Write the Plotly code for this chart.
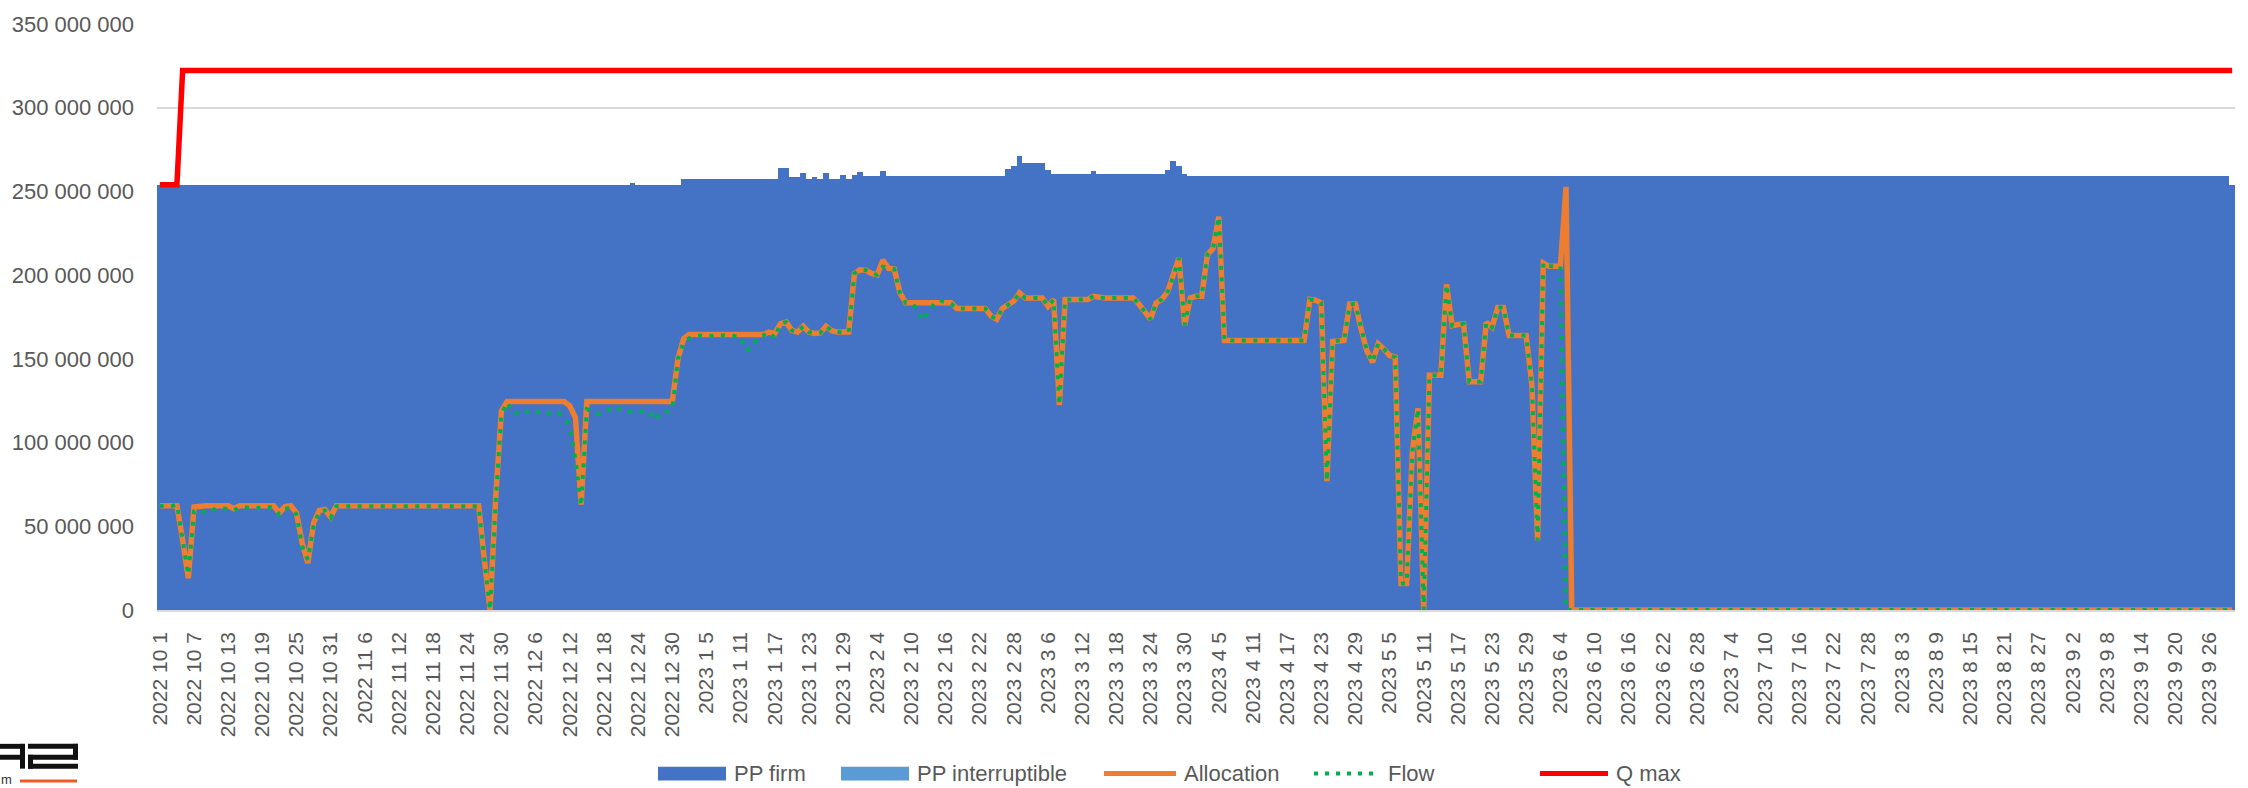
import pandas as pd
import plotly.graph_objects as go

# Gas day categories, 1 Oct 2022 - 30 Sep 2023
dates = pd.date_range("2022-10-01", "2023-09-30", freq="D")
days = [f"{d.year} {d.month} {d.day}" for d in dates]
tick_days = days[::6]

# Daily values in millions (kWh/d), one row = 10 gas days
pp_firm = [
    254.0, 254.0, 254.0, 254.0, 254.0, 254.0, 254.0, 254.0, 254.0, 254.0,
    254.0, 254.0, 254.0, 254.0, 254.0, 254.0, 254.0, 254.0, 254.0, 254.0,
    254.0, 254.0, 254.0, 254.0, 254.0, 254.0, 254.0, 254.0, 254.0, 254.0,
    254.0, 254.0, 254.0, 254.0, 254.0, 254.0, 254.0, 254.0, 254.0, 254.0,
    254.0, 254.0, 254.0, 254.0, 254.0, 254.0, 254.0, 254.0, 254.0, 254.0,
    254.0, 254.0, 254.0, 254.0, 254.0, 254.0, 254.0, 254.0, 254.0, 254.0,
    254.0, 254.0, 254.0, 254.0, 254.0, 254.0, 254.0, 254.0, 254.0, 254.0,
    254.0, 254.0, 254.0, 254.0, 254.0, 254.0, 254.0, 254.0, 254.0, 254.0,
    254.0, 254.0, 254.0, 254.8, 254.0, 254.0, 254.0, 254.0, 254.0, 254.0,
    254.0, 254.0, 257.2, 257.2, 257.2, 257.2, 257.2, 257.2, 257.2, 257.2,
    257.2, 257.2, 257.2, 257.2, 257.2, 257.2, 257.2, 257.2, 257.2, 264.0,
    264.0, 258.6, 258.6, 261.2, 257.2, 258.6, 257.2, 261.2, 257.2, 257.2,
    259.6, 257.2, 259.6, 261.6, 259.2, 259.2, 259.2, 262.4, 259.2, 259.2,
    259.2, 259.2, 259.2, 259.2, 259.2, 259.2, 259.2, 259.2, 259.2, 259.2,
    259.2, 259.2, 259.2, 259.2, 259.2, 259.2, 259.2, 259.2, 259.2, 263.5,
    264.9, 271.0, 267.1, 267.1, 267.1, 267.1, 262.6, 260.2, 260.2, 260.2,
    260.2, 260.2, 260.2, 260.2, 262.4, 260.2, 260.2, 260.2, 260.2, 260.2,
    260.2, 260.2, 260.2, 260.2, 260.2, 260.2, 260.2, 263.1, 268.3, 265.3,
    260.2, 259.2, 259.2, 259.2, 259.2, 259.2, 259.2, 259.2, 259.2, 259.2,
    259.2, 259.2, 259.2, 259.2, 259.2, 259.2, 259.2, 259.2, 259.2, 259.2,
    259.2, 259.2, 259.2, 259.2, 259.2, 259.2, 259.2, 259.2, 259.2, 259.2,
    259.2, 259.2, 259.2, 259.2, 259.2, 259.2, 259.2, 259.2, 259.2, 259.2,
    259.2, 259.2, 259.2, 259.2, 259.2, 259.2, 259.2, 259.2, 259.2, 259.2,
    259.2, 259.2, 259.2, 259.2, 259.2, 259.2, 259.2, 259.2, 259.2, 259.2,
    259.2, 259.2, 259.2, 259.2, 259.2, 259.2, 259.2, 259.2, 259.2, 259.2,
    259.2, 259.2, 259.2, 259.2, 259.2, 259.2, 259.2, 259.2, 259.2, 259.2,
    259.2, 259.2, 259.2, 259.2, 259.2, 259.2, 259.2, 259.2, 259.2, 259.2,
    259.2, 259.2, 259.2, 259.2, 259.2, 259.2, 259.2, 259.2, 259.2, 259.2,
    259.2, 259.2, 259.2, 259.2, 259.2, 259.2, 259.2, 259.2, 259.2, 259.2,
    259.2, 259.2, 259.2, 259.2, 259.2, 259.2, 259.2, 259.2, 259.2, 259.2,
    259.2, 259.2, 259.2, 259.2, 259.2, 259.2, 259.2, 259.2, 259.2, 259.2,
    259.2, 259.2, 259.2, 259.2, 259.2, 259.2, 259.2, 259.2, 259.2, 259.2,
    259.2, 259.2, 259.2, 259.2, 259.2, 259.2, 259.2, 259.2, 259.2, 259.2,
    259.2, 259.2, 259.2, 259.2, 259.2, 259.2, 259.2, 259.2, 259.2, 259.2,
    259.2, 259.2, 259.2, 259.2, 259.2, 259.2, 259.2, 259.2, 259.2, 259.2,
    259.2, 259.2, 259.2, 259.2, 259.2, 259.2, 259.2, 259.2, 259.2, 259.2,
    259.2, 259.2, 259.2, 259.2, 254.0,
]

pp_interruptible = [0.0] * len(days)

allocation = [
    62.3, 62.3, 62.3, 62.3, 42.0, 19.0, 61.5, 62.3, 62.3, 62.3,
    62.3, 62.3, 62.3, 60.5, 62.3, 62.3, 62.3, 62.3, 62.3, 62.3,
    62.3, 58.0, 61.8, 62.3, 58.0, 40.0, 28.0, 52.0, 59.5, 60.0,
    55.5, 62.3, 62.3, 62.3, 62.3, 62.3, 62.3, 62.3, 62.3, 62.3,
    62.3, 62.3, 62.3, 62.3, 62.3, 62.3, 62.3, 62.3, 62.3, 62.3,
    62.3, 62.3, 62.3, 62.3, 62.3, 62.3, 62.3, 30.0, 0.0, 68.0,
    119.0, 124.5, 124.5, 124.5, 124.5, 124.5, 124.5, 124.5, 124.5, 124.5,
    124.5, 124.5, 122.0, 115.0, 63.0, 124.5, 124.5, 124.5, 124.5, 124.5,
    124.5, 124.5, 124.5, 124.5, 124.5, 124.5, 124.5, 124.5, 124.5, 124.5,
    124.5, 150.0, 162.0, 164.5, 164.5, 164.5, 164.5, 164.5, 164.5, 164.5,
    164.5, 164.5, 164.5, 164.5, 164.5, 164.5, 164.5, 166.0, 165.0, 171.0,
    172.0, 167.0, 166.0, 169.5, 166.0, 165.2, 165.5, 169.5, 166.8, 166.0,
    165.6, 166.0, 201.0, 203.2, 203.0, 201.0, 200.2, 209.0, 204.0, 203.6,
    189.4, 183.5, 183.5, 183.5, 183.5, 183.5, 183.5, 183.5, 183.5, 183.5,
    180.1, 180.1, 180.1, 180.1, 180.1, 180.1, 175.5, 173.7, 180.1, 182.5,
    184.5, 189.4, 186.4, 186.4, 186.4, 186.4, 181.5, 185.5, 122.4, 185.5,
    185.5, 185.5, 185.5, 185.5, 187.4, 186.5, 186.4, 186.4, 186.4, 186.4,
    186.4, 186.4, 182.6, 178.0, 173.7, 183.5, 185.5, 190.0, 199.0, 210.2,
    170.0, 186.4, 187.4, 187.4, 212.2, 216.1, 234.9, 161.0, 161.0, 161.0,
    161.0, 161.0, 161.0, 161.0, 161.0, 161.0, 161.0, 161.0, 161.0, 161.0,
    161.0, 161.0, 185.5, 185.0, 183.5, 77.0, 160.3, 161.0, 161.0, 182.7,
    182.7, 168.0, 155.0, 148.0, 159.0, 156.0, 152.0, 151.0, 15.8, 15.8,
    94.8, 120.4, 0.0, 140.2, 140.2, 140.2, 194.5, 169.8, 170.5, 170.8,
    136.3, 136.3, 136.3, 171.8, 168.9, 180.7, 180.7, 163.9, 163.9, 163.9,
    163.9, 134.3, 41.5, 207.3, 205.3, 205.3, 205.3, 252.7, 0.0, 0.0,
    0.0, 0.0, 0.0, 0.0, 0.0, 0.0, 0.0, 0.0, 0.0, 0.0,
    0.0, 0.0, 0.0, 0.0, 0.0, 0.0, 0.0, 0.0, 0.0, 0.0,
    0.0, 0.0, 0.0, 0.0, 0.0, 0.0, 0.0, 0.0, 0.0, 0.0,
    0.0, 0.0, 0.0, 0.0, 0.0, 0.0, 0.0, 0.0, 0.0, 0.0,
    0.0, 0.0, 0.0, 0.0, 0.0, 0.0, 0.0, 0.0, 0.0, 0.0,
    0.0, 0.0, 0.0, 0.0, 0.0, 0.0, 0.0, 0.0, 0.0, 0.0,
    0.0, 0.0, 0.0, 0.0, 0.0, 0.0, 0.0, 0.0, 0.0, 0.0,
    0.0, 0.0, 0.0, 0.0, 0.0, 0.0, 0.0, 0.0, 0.0, 0.0,
    0.0, 0.0, 0.0, 0.0, 0.0, 0.0, 0.0, 0.0, 0.0, 0.0,
    0.0, 0.0, 0.0, 0.0, 0.0, 0.0, 0.0, 0.0, 0.0, 0.0,
    0.0, 0.0, 0.0, 0.0, 0.0, 0.0, 0.0, 0.0, 0.0, 0.0,
    0.0, 0.0, 0.0, 0.0, 0.0,
]

flow = [
    62.0, 62.5, 62.0, 63.0, 42.0, 21.0, 59.0, 60.0, 58.0, 59.0,
    61.0, 61.0, 60.0, 59.5, 61.5, 61.0, 61.0, 61.0, 61.5, 61.5,
    61.0, 57.0, 60.5, 61.0, 57.0, 38.0, 30.0, 50.0, 59.0, 59.5,
    55.0, 62.0, 62.0, 62.0, 62.0, 62.0, 62.0, 62.0, 62.0, 62.0,
    62.0, 62.0, 62.0, 62.0, 62.0, 62.0, 62.0, 62.0, 62.0, 62.0,
    62.0, 62.0, 62.0, 62.0, 62.0, 62.0, 62.0, 30.0, 0.0, 65.0,
    117.0, 124.0, 117.5, 118.0, 117.4, 119.7, 118.5, 117.4, 118.0, 117.4,
    118.0, 115.0, 110.0, 90.0, 62.0, 120.0, 118.6, 117.0, 118.0, 119.5,
    121.6, 119.5, 118.6, 118.6, 118.3, 118.3, 118.3, 113.3, 118.3, 118.3,
    120.0, 150.0, 160.0, 162.4, 163.0, 164.0, 163.5, 164.0, 164.0, 164.0,
    164.0, 163.5, 163.0, 155.0, 156.5, 163.0, 164.0, 166.0, 162.4, 171.0,
    172.0, 167.0, 166.0, 169.5, 166.0, 165.2, 165.5, 169.5, 166.8, 166.0,
    165.6, 166.0, 201.0, 203.2, 203.0, 201.0, 200.2, 205.0, 204.0, 203.6,
    189.4, 183.5, 183.5, 179.7, 172.8, 177.7, 183.0, 185.0, 184.0, 183.0,
    180.1, 180.1, 180.1, 180.1, 180.1, 180.1, 175.5, 173.7, 180.1, 182.5,
    184.5, 189.4, 186.4, 186.4, 186.4, 186.4, 181.5, 185.5, 122.4, 185.5,
    185.5, 185.5, 185.5, 185.5, 187.4, 186.5, 186.4, 186.4, 186.4, 186.4,
    186.4, 186.4, 182.6, 178.0, 173.7, 183.5, 185.5, 190.0, 199.0, 210.2,
    170.0, 186.4, 187.4, 187.4, 212.2, 216.1, 234.9, 161.0, 161.0, 161.0,
    161.0, 161.0, 161.0, 161.0, 161.0, 161.0, 161.0, 161.0, 161.0, 161.0,
    161.0, 161.0, 185.5, 185.0, 183.5, 77.0, 160.3, 161.0, 161.0, 182.7,
    182.7, 168.0, 155.0, 148.0, 159.0, 156.0, 152.0, 151.0, 15.8, 15.8,
    94.8, 120.4, 0.0, 140.2, 140.2, 140.2, 194.5, 169.8, 170.5, 170.8,
    136.3, 136.3, 136.3, 171.8, 168.9, 180.7, 180.7, 163.9, 163.9, 163.9,
    163.9, 134.3, 41.5, 207.3, 205.3, 205.3, 205.3, 0.0, 0.0, 0.0,
    0.0, 0.0, 0.0, 0.0, 0.0, 0.0, 0.0, 0.0, 0.0, 0.0,
    0.0, 0.0, 0.0, 0.0, 0.0, 0.0, 0.0, 0.0, 0.0, 0.0,
    0.0, 0.0, 0.0, 0.0, 0.0, 0.0, 0.0, 0.0, 0.0, 0.0,
    0.0, 0.0, 0.0, 0.0, 0.0, 0.0, 0.0, 0.0, 0.0, 0.0,
    0.0, 0.0, 0.0, 0.0, 0.0, 0.0, 0.0, 0.0, 0.0, 0.0,
    0.0, 0.0, 0.0, 0.0, 0.0, 0.0, 0.0, 0.0, 0.0, 0.0,
    0.0, 0.0, 0.0, 0.0, 0.0, 0.0, 0.0, 0.0, 0.0, 0.0,
    0.0, 0.0, 0.0, 0.0, 0.0, 0.0, 0.0, 0.0, 0.0, 0.0,
    0.0, 0.0, 0.0, 0.0, 0.0, 0.0, 0.0, 0.0, 0.0, 0.0,
    0.0, 0.0, 0.0, 0.0, 0.0, 0.0, 0.0, 0.0, 0.0, 0.0,
    0.0, 0.0, 0.0, 0.0, 0.0, 0.0, 0.0, 0.0, 0.0, 0.0,
    0.0, 0.0, 0.0, 0.0, 0.0,
]

q_max = [254.0, 254.0, 254.0, 254.0] + [322.2] * 361

for series in (pp_firm, allocation, flow, q_max):
    assert len(series) == len(days), len(series)

M = 1e6
C_FIRM = "#4472C4"
C_INTR = "#5B9BD5"
C_ALLOC = "#ED7D31"
C_FLOW = "#00B050"
C_QMAX = "#FF0000"
TXT = "#595959"
FONT = "Liberation Sans, Arial, sans-serif"

fig = go.Figure()
fig.add_trace(go.Bar(x=days, y=[v * M for v in pp_firm], name="PP firm",
                     marker=dict(color=C_FIRM, line=dict(width=0))))
fig.add_trace(go.Bar(x=days, y=[v * M for v in pp_interruptible], name="PP interruptible",
                     marker=dict(color=C_INTR, line=dict(width=0))))
fig.add_trace(go.Scatter(x=days, y=[v * M for v in allocation], name="Allocation", mode="lines",
                         line=dict(color=C_ALLOC, width=5.5), cliponaxis=False))
fig.add_trace(go.Scatter(x=days, y=[v * M for v in flow], name="Flow", mode="lines",
                         line=dict(color=C_FLOW, width=4, dash="4px,7.5px"), cliponaxis=False))
fig.add_trace(go.Scatter(x=days, y=[v * M for v in q_max], name="Q max", mode="lines",
                         line=dict(color=C_QMAX, width=5.5), cliponaxis=False))

# plot area in page pixels
L, R, T, B = 157, 2235, 19, 610
W, H = R - L, B - T


def px(x):
    return (x - L) / W


def py(y):
    return (B - y) / H


shapes = []
annotations = []

# legend row drawn below the axis
LEG_Y = 775
legend_items = [
    ("box", C_FIRM, 658, 726, "PP firm"),
    ("box", C_INTR, 841, 909, "PP interruptible"),
    ("line", C_ALLOC, 1104, 1176, "Allocation"),
    ("dot", C_FLOW, 1314, 1380, "Flow"),
    ("line", C_QMAX, 1540, 1608, "Q max"),
]
for kind, color, x0, x1, label in legend_items:
    if kind == "box":
        shapes.append(dict(type="rect", xref="paper", yref="paper",
                           x0=px(x0), x1=px(x1), y0=py(LEG_Y + 7), y1=py(LEG_Y - 7),
                           fillcolor=color, line=dict(width=0)))
    else:
        shapes.append(dict(type="line", xref="paper", yref="paper",
                           x0=px(x0), x1=px(x1), y0=py(LEG_Y), y1=py(LEG_Y),
                           line=dict(color=color, width=5 if kind == "line" else 4,
                                     dash="solid" if kind == "line" else "4px,7px")))
    annotations.append(dict(xref="paper", yref="paper", x=px(x1 + 6), y=py(LEG_Y),
                            xanchor="left", yanchor="middle", showarrow=False,
                            text=label, font=dict(family=FONT, size=22, color=TXT)))

# company mark in the lower left corner
logo_rects = [
    (0, 25, 745, 750), (20, 25, 745, 770), (0, 25, 756, 761),
    (28, 78, 745, 750), (73, 78, 745, 761), (28, 78, 756, 761),
    (28, 33, 756, 770), (28, 78, 765, 770),
]
for x0, x1, y0, y1 in logo_rects:
    shapes.append(dict(type="rect", xref="paper", yref="paper",
                       x0=px(x0), x1=px(x1), y0=py(y1), y1=py(y0),
                       fillcolor="#111111", line=dict(width=0)))
shapes.append(dict(type="rect", xref="paper", yref="paper",
                   x0=px(20), x1=px(77), y0=py(784), y1=py(781),
                   fillcolor="#F05A28", line=dict(width=0)))
annotations.append(dict(xref="paper", yref="paper", x=px(14), y=py(781),
                        xanchor="right", yanchor="middle", showarrow=False,
                        text="m", font=dict(family=FONT, size=13, color="#333333")))

fig.update_layout(
    width=2248, height=788,
    margin=dict(l=L, r=2248 - R, t=T, b=788 - B, pad=0),
    paper_bgcolor="white", plot_bgcolor="white",
    barmode="stack", bargap=0,
    separators=". ",
    showlegend=False,
    shapes=shapes, annotations=annotations,
    xaxis=dict(type="category", categoryorder="array", categoryarray=days,
               range=[-0.5, len(days) - 0.5],
               tickmode="array", tickvals=tick_days, ticktext=tick_days,
               tickangle=-90, ticks="", showgrid=False,
               showline=True, linecolor="#D9D9D9", linewidth=1.5,
               tickfont=dict(family=FONT, size=21, color=TXT),
               ticklabelstandoff=12),
    yaxis=dict(range=[0, 350e6], dtick=50e6, tickformat=",d",
               showgrid=True, gridcolor="#D9D9D9", gridwidth=1.5,
               zeroline=False, showline=False, ticks="",
               tickfont=dict(family=FONT, size=22, color=TXT),
               ticklabelstandoff=22),
)

fig.write_html("out.html")
